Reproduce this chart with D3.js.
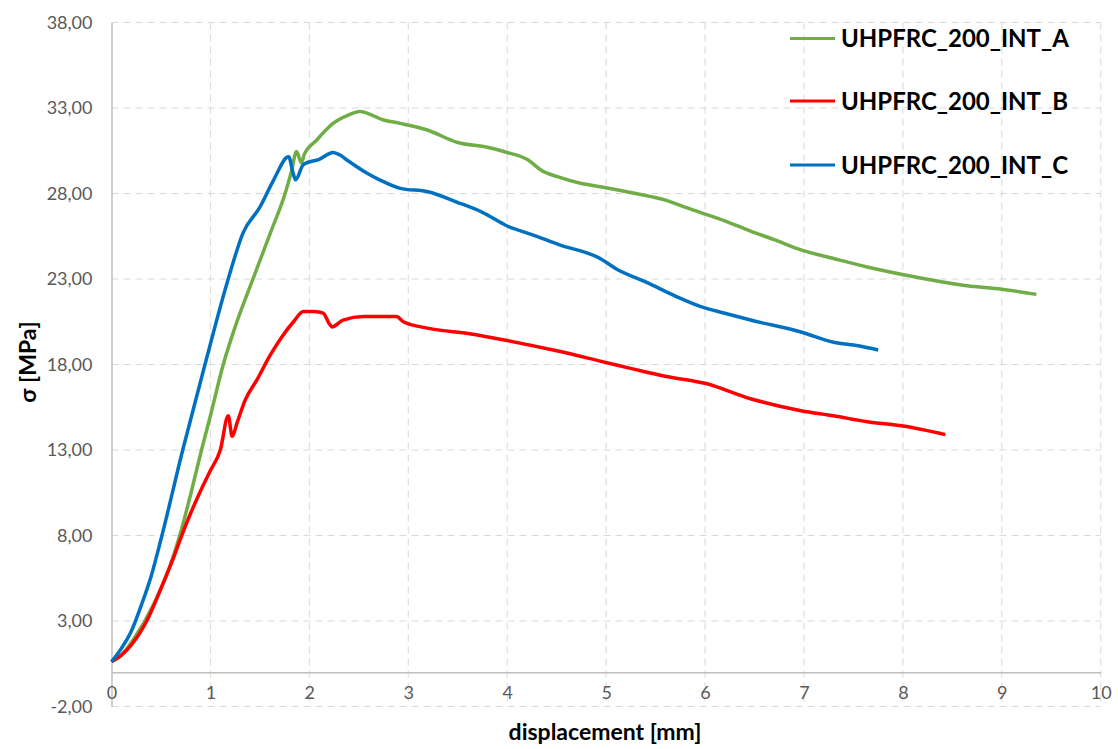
<!DOCTYPE html>
<html>
<head>
<meta charset="utf-8">
<script src="https://cdn.jsdelivr.net/npm/d3@7"></script>
<style>
    body { margin: 0; background: #fff; }
    .tick-label { font-family: Lato, "Open Sans", sans-serif; font-size: 18px; fill: #595959; }
    .axis-title { font-family: Lato, "Open Sans", sans-serif; font-size: 23px; font-weight: bold; fill: #000; }
    .legend-label { font-family: Lato, "Open Sans", sans-serif; font-size: 24px; font-weight: bold; fill: #000; }
</style>
</head>
<body>
<div id="chart"></div>
<script>
// values
const seriesNames = ['UHPFRC_200_INT_A', 'UHPFRC_200_INT_B', 'UHPFRC_200_INT_C'];

const dispA = [0, 0.1, 0.22, 0.42, 0.59, 0.69, 0.8, 0.91, 1.0, 1.13, 1.25, 1.43, 1.6, 1.755, 1.82, 1.87, 1.92, 1.95, 2.07, 2.24, 2.4, 2.51, 2.75, 2.92, 3.2, 3.49, 3.8, 4.0, 4.2, 4.36, 4.5, 4.74, 4.94, 5.3, 5.61, 5.75, 5.95, 6.2, 6.46, 6.7, 6.97, 7.3, 7.64, 8.14, 8.65, 9.0, 9.35];
const stressA = [0.62, 1.0, 1.9, 3.9, 6.2, 8.0, 10.4, 13.0, 15.0, 18.0, 20.2, 23.0, 25.6, 28.0, 29.3, 30.45, 29.8, 30.3, 31.1, 32.1, 32.6, 32.8, 32.3, 32.1, 31.7, 31.0, 30.7, 30.4, 30.0, 29.3, 29.0, 28.6, 28.4, 28.0, 27.6, 27.3, 26.9, 26.4, 25.8, 25.3, 24.7, 24.2, 23.7, 23.1, 22.6, 22.4, 22.1];

const dispB = [0, 0.1, 0.2, 0.356, 0.5, 0.62, 0.71, 0.8, 0.9, 1.0, 1.1, 1.18, 1.22, 1.27, 1.35, 1.47, 1.6, 1.72, 1.84, 1.94, 2.05, 2.14, 2.2, 2.23, 2.34, 2.55, 2.75, 2.88, 2.95, 3.22, 3.62, 4.0, 4.5, 4.94, 5.3, 5.61, 6.0, 6.46, 6.97, 7.3, 7.64, 8.0, 8.43];
const stressB = [0.62, 1.0, 1.6, 3.0, 4.9, 6.6, 8.0, 9.3, 10.6, 11.8, 13.0, 15.0, 13.8, 14.6, 15.9, 17.1, 18.5, 19.6, 20.5, 21.1, 21.1, 21.0, 20.4, 20.2, 20.6, 20.8, 20.8, 20.8, 20.5, 20.1, 19.8, 19.4, 18.8, 18.2, 17.7, 17.3, 16.9, 16.0, 15.3, 15.0, 14.65, 14.4, 13.9];

const dispC = [0, 0.1, 0.2, 0.3, 0.4, 0.51, 0.72, 0.945, 1.18, 1.33, 1.5, 1.64, 1.79, 1.84, 1.86, 1.94, 2.1, 2.24, 2.31, 2.38, 2.58, 2.71, 2.92, 3.2, 3.49, 3.75, 4.0, 4.25, 4.53, 4.94, 5.1, 5.41, 5.7, 5.95, 6.2, 6.46, 6.97, 7.3, 7.55, 7.75];
const stressC = [0.62, 1.4, 2.4, 3.9, 5.6, 8.0, 13.0, 18.0, 23.0, 25.7, 27.2, 28.8, 30.15, 29.1, 28.8, 29.7, 30.0, 30.4, 30.25, 29.96, 29.2, 28.8, 28.3, 28.1, 27.5, 26.9, 26.1, 25.6, 25.0, 24.2, 23.6, 22.8, 22.0, 21.4, 21.0, 20.6, 19.9, 19.3, 19.1, 18.85];

const xTicks = [0, 1, 2, 3, 4, 5, 6, 7, 8, 9, 10];
const yTicks = [-2, 3, 8, 13, 18, 23, 28, 33, 38];

const colors = ['#70AD47', '#FF0000', '#0070C0'];

const width = 1118;
const height = 749;
const margin = { top: 22.5, right: 17.3, bottom: 42.5, left: 111.5 };

const svg = d3.select('#chart').append('svg')
    .attr('width', width)
    .attr('height', height);

const x = d3.scaleLinear().domain([0, 10]).range([margin.left, width - margin.right]);
const y = d3.scaleLinear().domain([-2, 38]).range([height - margin.bottom, margin.top]);

// Excel style: comma decimals, plain hyphen for minus
const fmt = v => d3.format('.2f')(v).replace('.', ',').replace('\u2212', '-');

// dashed grid
svg.append('g')
    .selectAll('line')
    .data(yTicks)
    .enter().append('line')
    .attr('x1', x(0)).attr('x2', x(10))
    .attr('y1', d => y(d)).attr('y2', d => y(d))
    .style('stroke', '#d9d9d9')
    .style('stroke-width', 1)
    .style('stroke-dasharray', '7,5');

svg.append('g')
    .selectAll('line')
    .data(xTicks.slice(1))
    .enter().append('line')
    .attr('x1', d => x(d)).attr('x2', d => x(d))
    .attr('y1', y(38)).attr('y2', y(-2))
    .style('stroke', '#d9d9d9')
    .style('stroke-width', 1)
    .style('stroke-dasharray', '7,5');

// axis lines
const yAxis = d3.axisLeft(y).tickValues(yTicks).tickFormat(fmt).tickSize(0).tickPadding(19);
const gy = svg.append('g')
    .attr('transform', `translate(${x(0)},0)`)
    .call(yAxis);
gy.select('.domain').style('stroke', '#bfbfbf').style('stroke-width', 1.5);
gy.selectAll('text').attr('class', 'tick-label').attr('font-family', null).attr('font-size', null);

const xAxis = d3.axisBottom(x).tickValues(xTicks).tickFormat(d3.format('d')).tickSize(0).tickPadding(14);
const gx = svg.append('g')
    .attr('transform', `translate(0,${y(0)})`)
    .call(xAxis);
gx.select('.domain').style('stroke', '#bfbfbf').style('stroke-width', 1.5);
gx.selectAll('text').attr('class', 'tick-label').attr('font-family', null).attr('font-size', null);

// curves
const series = [
    { xs: dispA, ys: stressA },
    { xs: dispB, ys: stressB },
    { xs: dispC, ys: stressC }
];

const line = d3.line()
    .x(d => x(d[0]))
    .y(d => y(d[1]))
    .curve(d3.curveMonotoneX);

series.forEach((s, i) => {
    const pts = s.xs.map((v, j) => [v, s.ys[j]]);
    svg.append('path')
        .datum(pts)
        .attr('d', line)
        .style('fill', 'none')
        .style('stroke', colors[i])
        .style('stroke-width', 3.5)
        .style('stroke-linejoin', 'round');
});

// axis titles
svg.append('text')
    .attr('class', 'axis-title')
    .attr('x', 605)
    .attr('y', 740)
    .attr('text-anchor', 'middle')
    .text('displacement [mm]');

svg.append('text')
    .attr('class', 'axis-title')
    .attr('transform', 'translate(36,362) rotate(-90)')
    .attr('text-anchor', 'middle')
    .text('σ [MPa]');

// legend
const legendY = [38.5, 101, 165];
const legend = svg.selectAll('.legend')
    .data(seriesNames)
    .enter().append('g')
    .attr('class', 'legend')
    .attr('transform', (d, i) => `translate(790,${legendY[i]})`);

legend.append('line')
    .attr('x1', 0).attr('x2', 45)
    .attr('y1', 0).attr('y2', 0)
    .style('stroke', (d, i) => colors[i])
    .style('stroke-width', 3);

legend.append('text')
    .attr('class', 'legend-label')
    .attr('x', 51)
    .attr('y', 0)
    .attr('dy', '.36em')
    .text(d => d);
</script>
</body>
</html>
